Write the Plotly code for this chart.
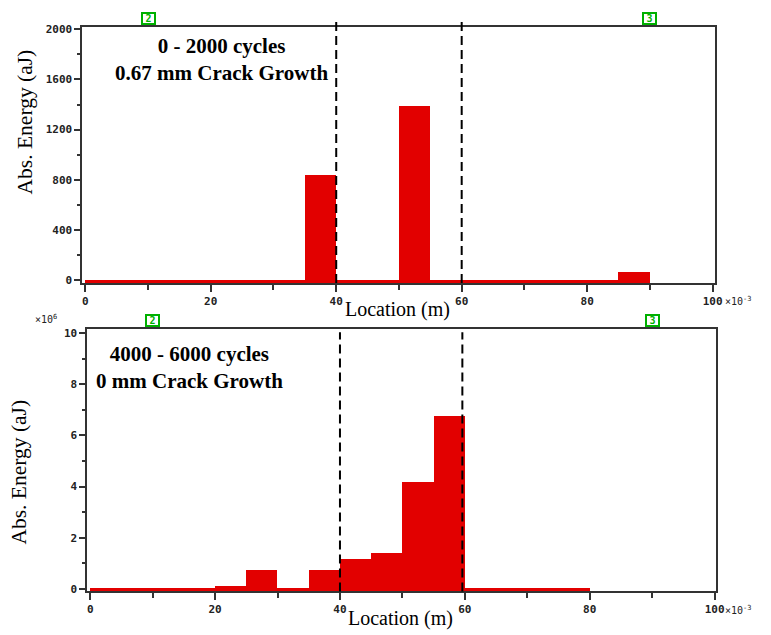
import plotly.graph_objects as go

# ---------------- data ----------------
top_bin_left = [0, 5, 10, 15, 20, 25, 30, 35, 40, 45, 50, 55, 60, 65, 70, 75, 80, 85]
top_energy = [5, 5, 5, 5, 5, 5, 5, 840, 5, 5, 1390, 5, 5, 5, 5, 5, 5, 63]          # aJ
bot_bin_left = [0, 5, 10, 15, 20, 25, 30, 35, 40, 45, 50, 55, 60, 65, 70, 75]
bot_energy = [0.04, 0.04, 0.04, 0.04, 0.09, 0.74, 0.04, 0.74, 1.16, 1.38, 4.18, 6.76,
              0.04, 0.04, 0.04, 0.04]                                                # x10^6 aJ
bin_width = 5
top_dashed = [40, 60]
bot_dashed = [40, 59.6]
sensor_x = [10, 90]
sensor_labels = ["2", "3"]
top_text = "0 - 2000 cycles<br>0.67 mm Crack Growth"
bot_text = "4000 - 6000 cycles<br>0 mm Crack Growth"
x_ticks = [0, 20, 40, 60, 80, 100]
top_y_ticks = [0, 400, 800, 1200, 1600, 2000]
bot_y_ticks = [0, 2, 4, 6, 8, 10]

W, H = 771, 635
def px(x):
    return x / W
def py(y):
    return 1 - y / H

RED = "#e20000"
AX = "#333333"
MONO = "DejaVu Sans Mono"
tickfont = dict(family=MONO, size=11, color="#222222", weight="bold")
serif = "Liberation Serif"

top_dom_x = [px(83), px(722)]
top_dom_y = [py(283), py(24)]
bot_dom_x = [px(88), px(724)]
bot_dom_y = [py(595), py(330)]
top_yrange = [-24, 2021]
bot_yrange = [-0.1, 10.15]

fig = go.Figure()
fig.add_trace(go.Bar(
    x=[b + bin_width / 2 for b in top_bin_left], y=[v - top_yrange[0] for v in top_energy],
    base=top_yrange[0], width=bin_width, marker=dict(color=RED, line=dict(width=0)),
    xaxis="x", yaxis="y", showlegend=False, hoverinfo="skip"))
fig.add_trace(go.Bar(
    x=[b + bin_width / 2 for b in bot_bin_left], y=[v - bot_yrange[0] for v in bot_energy],
    base=bot_yrange[0], width=bin_width, marker=dict(color=RED, line=dict(width=0)),
    xaxis="x2", yaxis="y2", showlegend=False, hoverinfo="skip"))

def xaxis_cfg(dom, anchor):
    return dict(domain=dom, anchor=anchor, range=[-0.5, 100.3], tickvals=x_ticks,
                ticktext=[str(t) for t in x_ticks], ticks="outside", ticklen=7, tickwidth=1.5,
                tickcolor=AX, minor=dict(dtick=10, tick0=0, ticks="outside", ticklen=5,
                                         tickwidth=1.5, tickcolor=AX),
                showline=True, linecolor=AX, linewidth=1.5, mirror=True, showgrid=False,
                zeroline=False, tickfont=tickfont)

def yaxis_cfg(dom, anchor, rng, ticks, minor_d):
    return dict(domain=dom, anchor=anchor, range=rng, tickvals=ticks,
                ticktext=[str(t) for t in ticks], ticks="outside", ticklen=6, tickwidth=1.5,
                tickcolor=AX, minor=dict(dtick=minor_d, tick0=0, ticks="outside", ticklen=3,
                                         tickwidth=1.5, tickcolor=AX),
                showline=True, linecolor=AX, linewidth=1.5, mirror=True, showgrid=False,
                zeroline=False, tickfont=tickfont)

shapes = []
for xv in top_dashed:
    shapes.append(dict(type="line", xref="x", yref="paper", x0=xv, x1=xv,
                       y0=top_dom_y[0], y1=py(19), line=dict(color="black", width=2, dash="9px,5px")))
for xv in bot_dashed:
    shapes.append(dict(type="line", xref="x2", yref="paper", x0=xv, x1=xv,
                       y0=bot_dom_y[0], y1=py(333), line=dict(color="black", width=2, dash="9px,5px")))

ann = []
for xr, dom_y in (("x", top_dom_y), ("x2", bot_dom_y)):
    for sx, sl in zip(sensor_x, sensor_labels):
        ann.append(dict(xref=xr, yref="paper", x=sx, y=dom_y[1], xanchor="center", yanchor="bottom",
                        yshift=2, text=sl, showarrow=False, width=11, height=9,
                        font=dict(family=MONO, size=10, color="#00b000", weight="bold"),
                        bordercolor="#00b000", borderwidth=2, borderpad=0, bgcolor="white"))

def note(x, y, text, size, **kw):
    d = dict(xref="paper", yref="paper", x=px(x), y=py(y), text=text, showarrow=False,
             xanchor="center", yanchor="middle", font=dict(family=serif, size=size, color="black"))
    d.update(kw)
    return d

ann += [
    note(224, 57, "<b>" + top_text + "</b>", 21, align="center"),
    note(191, 369, "<b>" + bot_text + "</b>", 21, align="center"),
    note(402, 310, "Location (m)", 20),
    note(405, 622, "Location (m)", 20),
    note(25, 120, "Abs. Energy (aJ)", 21.5, textangle=-90),
    note(19, 474, "Abs. Energy (aJ)", 21.5, textangle=-90),
    dict(xref="paper", yref="paper", x=px(731), y=py(301), xanchor="left", yanchor="middle",
         text="×10<sup>-3</sup>", showarrow=False, font=dict(family=MONO, size=10, color="#222222")),
    dict(xref="paper", yref="paper", x=px(731), y=py(614), xanchor="left", yanchor="middle",
         text="×10<sup>-3</sup>", showarrow=False, font=dict(family=MONO, size=10, color="#222222")),
    dict(xref="paper", yref="paper", x=px(33), y=py(320), xanchor="left", yanchor="middle",
         text="×10<sup>6</sup>", showarrow=False, font=dict(family=MONO, size=10, color="#222222")),
]

fig.update_layout(
    width=W, height=H, margin=dict(l=0, r=0, t=0, b=0),
    paper_bgcolor="white", plot_bgcolor="white", bargap=0, barmode="overlay",
    xaxis=xaxis_cfg(top_dom_x, "y"),
    yaxis=yaxis_cfg(top_dom_y, "x", top_yrange, top_y_ticks, 200),
    xaxis2=xaxis_cfg(bot_dom_x, "y2"),
    yaxis2=yaxis_cfg(bot_dom_y, "x2", bot_yrange, bot_y_ticks, 1),
    shapes=shapes, annotations=ann, showlegend=False, hovermode=False,
)

fig.write_html("out.html", config={"displayModeBar": False},
               post_script="document.body.style.margin='0';")
